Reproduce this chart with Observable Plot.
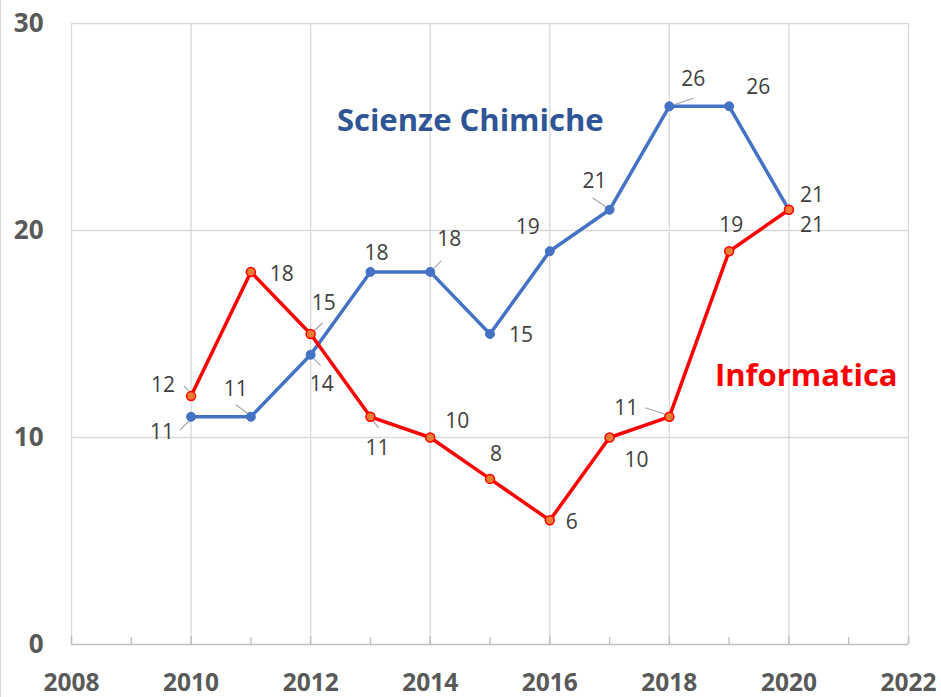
<!DOCTYPE html>
<html>
<head>
<meta charset="utf-8">
<script src="https://cdn.jsdelivr.net/npm/d3@7"></script>
<script src="https://cdn.jsdelivr.net/npm/@observablehq/plot@0.6"></script>
<style>
  html, body { margin: 0; padding: 0; background: #fff; }
  #wrap { position: relative; width: 941px; height: 697px; }
  #edge { position: absolute; left: 0; top: 0; width: 1px; height: 697px; background: #d9d9d9; }
  svg { font-family: "Open Sans", sans-serif; }
</style>
</head>
<body>
<div id="wrap"><div id="edge"></div></div>
<script>
// ---- data ----
const years = [2010, 2011, 2012, 2013, 2014, 2015, 2016, 2017, 2018, 2019, 2020];
const scienzeChimiche = [11, 11, 14, 18, 18, 15, 19, 21, 26, 26, 21];
const informatica = [12, 18, 15, 11, 10, 8, 6, 10, 11, 19, 21];
const seriesNames = ["Scienze Chimiche", "Informatica"];
const xTicks = [2008, 2010, 2012, 2014, 2016, 2018, 2020, 2022];
const minorTicks = [2009, 2011, 2013, 2015, 2017, 2019, 2021];
const yTicks = [0, 10, 20, 30];

// ---- layout (pixel offsets of data labels from their points) ----
const scLabelOffsets = [[-29, 15], [-15, -28], [11, 30], [6, -19], [19, -33], [31, 1], [-22, -24], [-15, -29], [24, -27], [29, -19], [23, -15]];
const infLabelOffsets = [[-28, -11], [31, 2], [13, -31], [7, 31], [27, -16], [6, -25], [22, 2], [27, 23], [-43, -9], [2, -26], [23, 15]];
// leader lines: [index, x1, y1, x2, y2] pixel offsets from the point
const scLeaders = [[0, -11, 13, -2, 4], [1, -15, -12, 0, -1], [2, 0, 1, 10, 11], [4, 0, 0, 11, -11], [7, -17, -12, -1, -1], [8, 0, 0, 24, -8]];
const infLeaders = [[0, -7, -10, -1, -4], [2, 0, 0, 12, -11], [3, 0, 0, 8, 11], [8, -24, -9, -3, -2]];

const W = 941, H = 697, mL = 71, mR = 33, mT = 23, mB = 53;
const xDomain = [2008, 2022], yDomain = [0, 30];
const pxX = (xDomain[1] - xDomain[0]) / (W - mL - mR);
const pxY = (yDomain[1] - yDomain[0]) / (H - mT - mB);

const blue = "#4472C4", red = "#FF0000", orange = "#ED7D31";

const sc = years.map((y, i) => ({x: y, y: scienzeChimiche[i]}));
const inf = years.map((y, i) => ({x: y, y: informatica[i]}));

const labelRows = (pts, offs) => pts.map((p, i) => ({x: p.x + offs[i][0] * pxX, y: p.y - offs[i][1] * pxY, text: String(p.y)}));
const leaderRows = (pts, ls) => ls.map(([i, a, b, c, d]) => ({
  x1: pts[i].x + a * pxX, y1: pts[i].y - b * pxY,
  x2: pts[i].x + c * pxX, y2: pts[i].y - d * pxY
}));

const titles = [
  {x: 2014.67, y: 25.3, text: seriesNames[0], fill: "#2F5597", padR: 40},
  {x: 2020.29, y: 12.95, text: seriesNames[1], fill: red, padR: 16}
];

const chart = Plot.plot({
  width: W, height: H,
  marginLeft: mL, marginRight: mR, marginTop: mT, marginBottom: mB,
  x: {domain: xDomain},
  y: {domain: yDomain},
  style: {fontFamily: "Open Sans, sans-serif", background: "#fff"},
  marks: [
    Plot.gridX(xTicks, {stroke: "#d9d9d9", strokeOpacity: 1, strokeWidth: 1.3}),
    Plot.gridY(yTicks.filter(d => d > 0), {stroke: "#d9d9d9", strokeOpacity: 1, strokeWidth: 1.3}),
    Plot.ruleY([0], {stroke: "#bfbfbf", strokeWidth: 1.5}),
    Plot.ruleX(xTicks, {y1: 0, y2: 8 * pxY, stroke: "#bfbfbf", strokeWidth: 1.5}),
    Plot.ruleX(minorTicks, {y1: 0, y2: 7 * pxY, stroke: "#bfbfbf", strokeWidth: 1.3}),
    Plot.axisX(xTicks, {tickSize: 0, tickPadding: 29, tickFormat: "d", fontSize: 24.5, fontWeight: "bold", fill: "#595959", label: null}),
    Plot.axisY(yTicks, {tickSize: 0, tickPadding: 28, fontSize: 26, fontWeight: "bold", fill: "#595959", label: null}),
    Plot.line(sc, {x: "x", y: "y", stroke: blue, strokeWidth: 3.5}),
    Plot.line(inf, {x: "x", y: "y", stroke: red, strokeWidth: 3.5}),
    Plot.link(leaderRows(sc, scLeaders), {x1: "x1", y1: "y1", x2: "x2", y2: "y2", stroke: "#a6a6a6", strokeWidth: 1.2}),
    Plot.link(leaderRows(inf, infLeaders), {x1: "x1", y1: "y1", x2: "x2", y2: "y2", stroke: "#a6a6a6", strokeWidth: 1.2}),
    Plot.dot(sc, {x: "x", y: "y", r: 4.5, fill: blue, stroke: blue, strokeWidth: 1}),
    Plot.dot(inf, {x: "x", y: "y", r: 4.5, fill: orange, stroke: red, strokeWidth: 1.5}),
    Plot.text(labelRows(sc, scLabelOffsets), {x: "x", y: "y", text: "text", fontSize: 21, fill: "#404040", textAnchor: "middle", lineAnchor: "middle"}),
    Plot.text(labelRows(inf, infLabelOffsets), {x: "x", y: "y", text: "text", fontSize: 21, fill: "#404040", textAnchor: "middle", lineAnchor: "middle"}),
    Plot.text(titles, {x: "x", y: "y", text: "text", fill: "fill", fontSize: 31, fontWeight: "bold", textAnchor: "middle", lineAnchor: "middle", ariaLabel: "series-title"})
  ]
});

document.getElementById("wrap").appendChild(chart);

// white background boxes behind the series titles
d3.select(chart).selectAll('g[aria-label="series-title"] text').each(function (_, k) {
  const b = this.getBBox();
  const padL = 14, padR = titles[k].padR, padY = 9;
  const r = document.createElementNS("http://www.w3.org/2000/svg", "rect");
  r.setAttribute("x", b.x - padL);
  r.setAttribute("y", b.y - padY);
  r.setAttribute("width", b.width + padL + padR);
  r.setAttribute("height", b.height + 2 * padY);
  r.setAttribute("fill", "#fff");
  const t = this.getAttribute("transform");
  if (t) r.setAttribute("transform", t);
  this.parentNode.insertBefore(r, this);
});
</script>
</body>
</html>
